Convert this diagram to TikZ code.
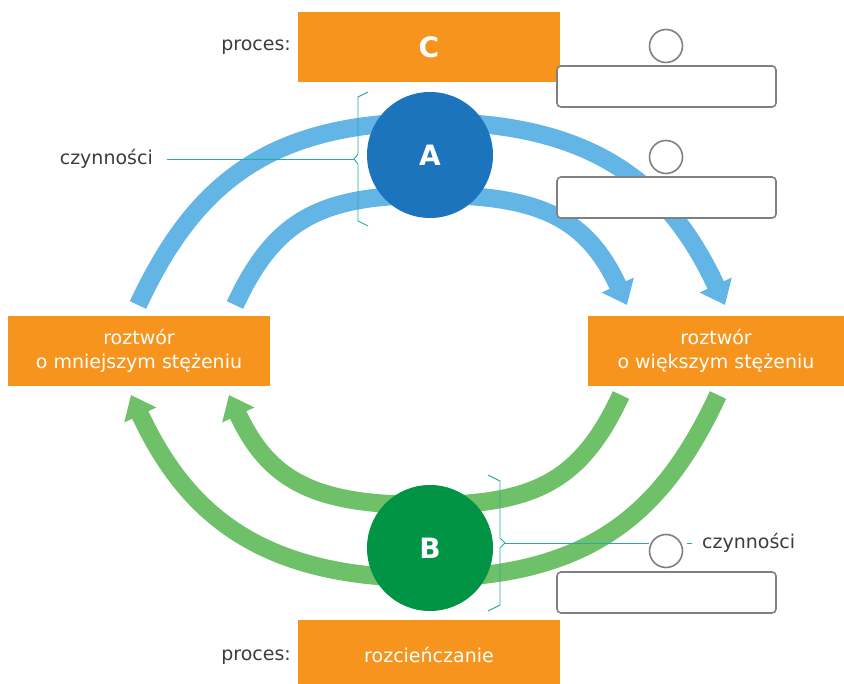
\documentclass[tikz,border=0pt]{standalone}
\usepackage{fontspec}
\setmainfont{DejaVu Sans}
\usetikzlibrary{arrows.meta}
\definecolor{boxorange}{RGB}{247,148,29}
\definecolor{arcblue}{RGB}{98,181,229}
\definecolor{arcgreen}{RGB}{110,192,105}
\definecolor{dotblue}{RGB}{28,117,188}
\definecolor{dotgreen}{RGB}{0,148,68}
\definecolor{bracecol}{RGB}{40,170,166}
\definecolor{framegray}{RGB}{128,128,128}
\definecolor{labelgray}{RGB}{60,60,60}
\tikzset{
    procbox/.style={fill=boxorange, text=white, minimum width=262pt, minimum height=70pt,
        inner sep=0pt, align=center, font=\fontsize{19}{24}\selectfont},
    bigdot/.style={circle, minimum size=126pt, inner sep=0pt, text=white,
        font=\fontsize{28}{30}\selectfont\bfseries},
    band/.style={line width=18pt, -{Triangle[width=34pt,length=22pt]}},
    answerbox/.style={draw=framegray, line width=1.6pt, fill=white, rounded corners=4pt,
        minimum width=219pt, minimum height=41pt, inner sep=0pt},
    answerdot/.style={draw=framegray, line width=1.6pt, fill=white, circle,
        minimum size=33pt, inner sep=0pt},
    tealline/.style={draw=bracecol, line width=0.9pt},
    lbl/.style={text=labelgray, font=\fontsize{19}{23}\selectfont, inner sep=0pt}
}
\begin{document}
\begin{tikzpicture}[x=1pt, y=-1pt]
    \useasboundingbox (0,0) rectangle (844,684);
    % ends of the bands
    \coordinate (bo1) at (138,305);
    \coordinate (bo2) at (725,305);
    \coordinate (bi1) at (235,305);
    \coordinate (bi2) at (627,305);
    \coordinate (go1) at (718,395);
    \coordinate (go2) at (131,395);
    \coordinate (gi1) at (621,395);
    \coordinate (gi2) at (229,395);
    % bands
    \draw[band, arcblue] (bo1) .. controls (193,187) and (266,122) .. (431,122)
        .. controls (596,122) and (670,187) .. (bo2);
    \draw[band, arcblue] (bi1) .. controls (275,219) and (321,195) .. (431,195)
        .. controls (541,195) and (587,219) .. (bi2);
    \draw[band, arcgreen] (go1) .. controls (663,513) and (590,578) .. (425,578)
        .. controls (260,578) and (186,513) .. (go2);
    \draw[band, arcgreen] (gi1) .. controls (581,481) and (535,505) .. (425,505)
        .. controls (315,505) and (269,481) .. (gi2);
    % circles
    \node[bigdot, fill=dotblue] (A) at (430,155) {A};
    \node[bigdot, fill=dotgreen] (B) at (430,548) {B};
    % boxes
    \node[procbox] (C) at (429,47) {\fontsize{28}{30}\selectfont\bfseries C};
    \node[procbox] (low) at (139,351) {roztwór\\o mniejszym stężeniu};
    \node[procbox, minimum width=256pt] (high) at (716,351) {roztwór\\o większym stężeniu};
    \node[procbox] (dil) at (429,655) {rozcieńczanie};
    \node[lbl, anchor=east] (procC) at (291,47) {proces:};
    \node[lbl, anchor=east] (procD) at (291,657) {proces:};
    % answer fields
    \node[answerbox] (ans1) at (666.5,86.5) {};
    \node[answerbox] (ans2) at (666.5,197.5) {};
    \node[answerbox] (ans3) at (666.5,592.5) {};
    \node[answerdot] (d1) at (666,46) {};
    \node[answerdot] (d2) at (666,157) {};
    \node[answerdot] (d3) at (666,551) {};
    % braces
    \coordinate (tipA) at (354,159);
    \coordinate (tipB) at (505,543);
    \draw[tealline] (368,92) -- (358,97) -- (358,154) -- (tipA) -- (358,164) -- (358,221) -- (368,226);
    \draw[tealline] (488,475) -- (500,481) -- (500,538) -- (tipB) -- (500,548) -- (500,605) -- (488,611);
    \node[lbl, anchor=east] (czynA) at (153,159) {czynności};
    \node[lbl, anchor=west] (czynB) at (702,543) {czynności};
    \draw[tealline] (tipA) -- ([xshift=14pt]czynA.east);
    \draw[tealline] (tipB) -- (tipB -| d3.west);
    \draw[tealline] ([xshift=-15pt]czynB.west) -- ([xshift=-10pt]czynB.west);
\end{tikzpicture}
\end{document}
